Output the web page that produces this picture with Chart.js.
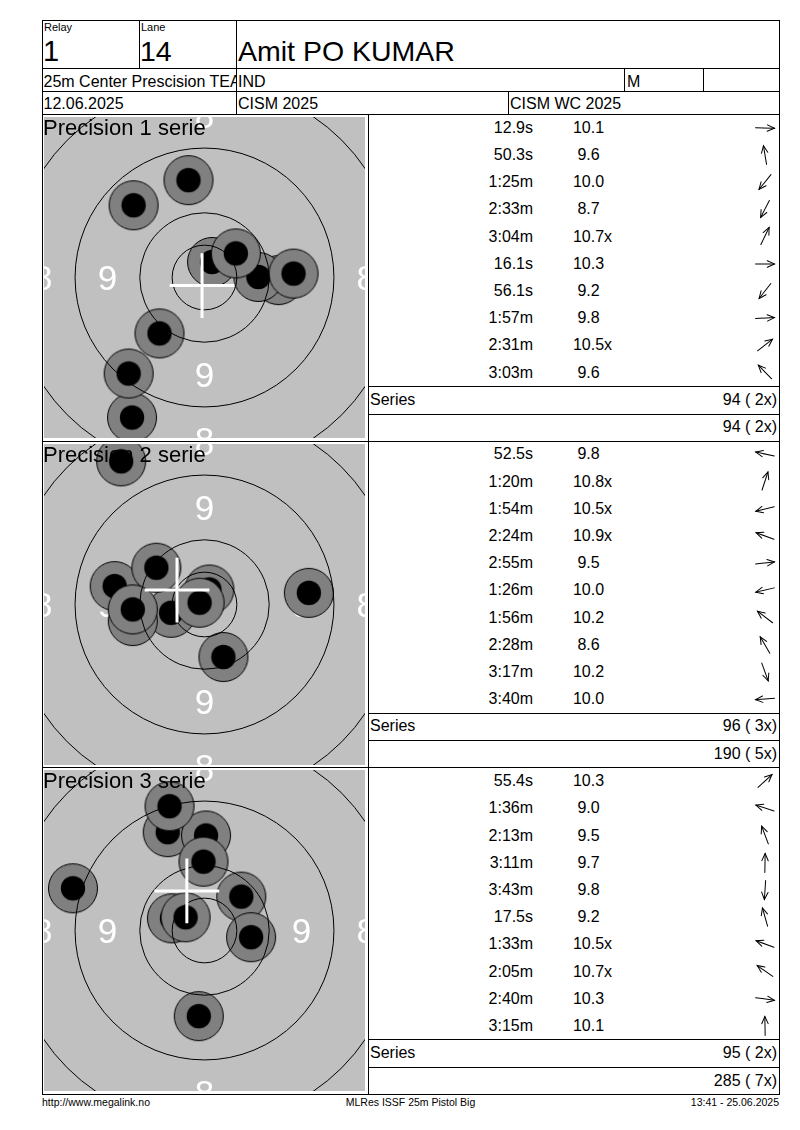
<!DOCTYPE html>
<html><head><meta charset="utf-8">
<script src="https://cdn.jsdelivr.net/npm/chart.js@4.4.0/dist/chart.umd.min.js"></script>
<style>
html,body{margin:0;padding:0;background:#fff;}
body{width:800px;height:1130px;position:relative;overflow:hidden;font-family:"Liberation Sans",Arial,Helvetica,sans-serif;color:#000;}
.l{position:absolute;background:#000;}
.t{position:absolute;white-space:nowrap;line-height:1;}
canvas.tg{position:absolute;}
</style></head><body>
<script>
// ---------- data ----------
const relayNo = "1";
const laneNo = "14";
const shooterName = "Amit PO KUMAR";
const eventName = "25m Center Prescision TEAM";
const nation = "IND";
const gender = "M";
const matchDate = "12.06.2025";
const competition = "CISM 2025";
const competitionSub = "CISM WC 2025";
const footerLeft = "http://www.megalink.no";
const footerMid = "MLRes ISSF 25m Pistol Big";
const footerRight = "13:41 - 25.06.2025";

const seriesTitles = ["Precision 1 serie", "Precision 2 serie", "Precision 3 serie"];

const s1Times = ["12.9s","50.3s","1:25m","2:33m","3:04m","16.1s","56.1s","1:57m","2:31m","3:03m"];
const s1Scores = ["10.1","9.6","10.0","8.7","10.7x","10.3","9.2","9.8","10.5x","9.6"];
const s1X = [28.6,-6.2,-17.4,-28.0,2.9,20.8,-29.3,34.4,12.1,-27.4];
const s1Y = [-1.0,37.6,-21.6,-54.1,6.0,0.2,-37.1,1.5,9.3,27.9];

const s2Times = ["52.5s","1:20m","1:54m","2:24m","2:55m","1:26m","1:56m","2:28m","3:17m","3:40m"];
const s2Scores = ["9.8","10.8x","10.5x","10.9x","9.5","10.0","10.2","8.6","10.2","10.0"];
const s2X = [-34.7,1.9,-12.9,-1.9,40.3,-27.7,-18.6,-32.2,7.3,-27.7];
const s2Y = [7.1,5.8,-3.2,0.7,4.5,-6.4,14.2,55.3,-20.3,-1.9];

const s3Times = ["55.4s","1:36m","2:13m","3:11m","3:43m","17.5s","1:33m","2:05m","2:40m","3:15m"];
const s3Scores = ["10.3","9.0","9.5","9.7","9.8","9.2","10.5x","10.7x","10.3","10.1"];
const s3X = [14.2,-50.8,-14.2,0.6,-2.2,-13.5,-12.6,-7.3,18.0,-0.4];
const s3Y = [13.1,16.3,38.0,36.7,-33.1,48.0,4.7,5.1,-2.6,26.6];

const seriesTotal = [94, 96, 95];
const seriesInner = [2, 3, 2];
const runningTotal = [94, 190, 285];
const runningInner = [2, 5, 7];

const ringRadii = [12.5, 25, 50, 75];      // mm: X, 10, 9, 8
const ringNumbers = ["9", "8"];
const ringNumberRadii = [37.5, 62.5];
const targetHalf = 62;                        // visible half-width, mm

// ---------- layout helpers ----------
const B = document.body;
function box(x, y, w, h) {
  const d = document.createElement('div'); d.className = 'l';
  d.style.cssText = `left:${x}px;top:${y}px;width:${w}px;height:${h}px`;
  B.appendChild(d);
}
function hl(x1, x2, y) { box(x1, Math.round(y), x2 - x1 + 1, 1); }
function vl(x, y1, y2) { box(x, Math.round(y1), 1, Math.round(y2) - Math.round(y1) + 1); }
function txt(x, base, str, size, align, extra) {
  const d = document.createElement('div'); d.className = 't';
  d.style.fontSize = size + 'px';
  d.style.top = (base - 0.8465 * size) + 'px';
  d.style.left = x + 'px';
  if (align === 'right') d.style.transform = 'translateX(-100%)';
  if (align === 'center') d.style.transform = 'translateX(-50%)';
  if (extra) d.style.cssText += extra;
  d.textContent = str;
  B.appendChild(d);
  return d;
}

const L = 42, R = 779, TOP = 20;
const secTop = [114, 114 + 326.67, 114 + 2 * 326.67];
const BOT = 114 + 3 * 326.67;

// frame
hl(L, R, TOP); hl(L, R, 68); hl(L, R, 91); hl(L, R, 114);
vl(L, TOP, BOT); vl(R, TOP, BOT);
vl(139, TOP, 68); vl(236, TOP, 68);
vl(236, 68, 91); vl(624, 68, 91); vl(703, 68, 91);
vl(236, 91, 114); vl(508, 91, 114);
vl(368, 114, BOT);
secTop.forEach(T => { hl(L, R, T + 326.67); hl(368, R, T + 272); hl(368, R, T + 299.5); });

// header text
txt(44, 31.3, "Relay", 11, 'left');
txt(141, 31.3, "Lane", 11, 'left');
txt(43, 61.3, relayNo, 29, 'left');
txt(140, 61.3, laneNo, 28.5, 'left');
txt(238, 61.3, shooterName, 28.5, 'left');
// clipped event cell
const clip = document.createElement('div');
clip.style.cssText = 'position:absolute;left:43px;top:69px;width:193px;height:22px;overflow:hidden';
B.appendChild(clip);
const ev = document.createElement('div'); ev.className = 't';
ev.style.cssText = `font-size:16px;left:0.5px;top:${88 - 69 - 0.8465 * 16}px`;
ev.textContent = eventName; clip.appendChild(ev);
txt(238, 88, nation, 16, 'left');
txt(627, 88, gender, 16, 'left');
txt(43.5, 110, matchDate, 16, 'left');
txt(238, 110, competition, 16, 'left');
txt(510, 110, competitionSub, 16, 'left');

// footer
txt(42, 1106, footerLeft, 10.5, 'left');
txt(410.5, 1106, footerMid, 10.5, 'center');
txt(779, 1106, footerRight, 10.5, 'right');

// ---------- tables ----------
const allTimes = [s1Times, s2Times, s3Times];
const allScores = [s1Scores, s2Scores, s3Scores];
const allX = [s1X, s2X, s3X];
const allY = [s1Y, s2Y, s3Y];
const ROWH = 27.2, FS = 16;

function arrow(xc, yc, x, y) {
  const ang = -Math.atan2(y, x) * 180 / Math.PI;
  const d = document.createElement('div');
  d.style.cssText = `position:absolute;left:${xc - 12}px;top:${yc - 12}px;width:24px;height:24px`;
  d.innerHTML = `<svg width="24" height="24" style="overflow:visible"><g transform="translate(12 12) rotate(${ang.toFixed(1)})" stroke="#000" stroke-width="1" fill="none" stroke-linecap="round"><line x1="-9.5" y1="0" x2="9.5" y2="0"/><polyline points="2.3,-3.2 9.5,0 2.3,3.2"/></g></svg>`;
  B.appendChild(d);
}

secTop.forEach((T, s) => {
  for (let i = 0; i < 10; i++) {
    const c = T + 13.6 + i * ROWH;
    const base = c + 0.358 * FS;
    txt(533, base, allTimes[s][i], FS, 'right');
    const sc = allScores[s][i];
    const num = sc.replace('x', '');
    const d = txt(548.5, base, num, FS, 'left', 'width:80px;text-align:center;');
    if (sc.indexOf('x') >= 0) {
      const sp = document.createElement('span'); sp.style.position = 'absolute'; sp.textContent = 'x';
      d.appendChild(sp);
    }
    arrow(764.5, c, allX[s][i], allY[s][i]);
  }
  const c1 = T + 272 + 13.6, c2 = T + 299.5 + 13.6;
  txt(370, c1 + 0.358 * FS, "Series", FS, 'left');
  txt(777, c1 + 0.358 * FS, `${seriesTotal[s]} ( ${seriesInner[s]}x)`, FS, 'right');
  txt(777, c2 + 0.358 * FS, `${runningTotal[s]} ( ${runningInner[s]}x)`, FS, 'right');
});

// ---------- targets (Chart.js) ----------
function makeShot() {
  const c = document.createElement('canvas'); c.width = 52; c.height = 52;
  const g = c.getContext('2d');
  g.beginPath(); g.arc(26, 26, 24.5, 0, 2 * Math.PI);
  g.fillStyle = '#808080'; g.fill();
  g.lineWidth = 1; g.strokeStyle = '#000'; g.stroke();
  g.beginPath(); g.arc(26, 26, 12.2, 0, 2 * Math.PI);
  g.fillStyle = '#000'; g.fill();
  return c;
}
const shotImg = makeShot();

const targetPlugin = {
  id: 'target',
  beforeDraw(chart) {
    const { ctx, chartArea: a } = chart;
    ctx.save(); ctx.fillStyle = '#c0c0c0';
    ctx.fillRect(a.left, a.top, a.right - a.left, a.bottom - a.top); ctx.restore();
  },
  beforeDatasetsDraw(chart) {
    const { ctx, chartArea: a } = chart;
    const xs = chart.scales.x, ys = chart.scales.y;
    ctx.save();
    ctx.beginPath(); ctx.rect(a.left, a.top, a.right - a.left, a.bottom - a.top); ctx.clip();
    ctx.fillStyle = '#ffffff';
    ctx.font = '35px "Liberation Sans", Arial, sans-serif';
    ctx.textAlign = 'center'; ctx.textBaseline = 'alphabetic';
    ringNumbers.forEach((lab, k) => {
      const r = ringNumberRadii[k];
      [[r, 0], [-r, 0], [0, r], [0, -r]].forEach(([vx, vy]) => {
        ctx.fillText(lab, xs.getPixelForValue(vx), ys.getPixelForValue(vy) + 0.358 * 35);
      });
    });
    ctx.restore();
  },
  afterDatasetsDraw(chart, args, opts) {
    const { ctx, chartArea: a } = chart;
    const xs = chart.scales.x, ys = chart.scales.y;
    const cx = xs.getPixelForValue(0), cy = ys.getPixelForValue(0);
    ctx.save();
    ctx.beginPath(); ctx.rect(a.left, a.top, a.right - a.left, a.bottom - a.top); ctx.clip();
    ctx.strokeStyle = '#000'; ctx.lineWidth = 1;
    ringRadii.forEach(R => {
      const r = Math.abs(xs.getPixelForValue(R) - cx);
      ctx.beginPath(); ctx.arc(cx, cy, r, 0, 2 * Math.PI); ctx.stroke();
    });
    // mean point of impact
    const pts = chart.data.datasets[0].data;
    const mx = pts.reduce((s, p) => s + p.x, 0) / pts.length;
    const my = pts.reduce((s, p) => s + p.y, 0) / pts.length;
    const h = 12.5;
    ctx.strokeStyle = '#fff'; ctx.lineWidth = 3;
    ctx.beginPath();
    ctx.moveTo(xs.getPixelForValue(mx - h), ys.getPixelForValue(my));
    ctx.lineTo(xs.getPixelForValue(mx + h), ys.getPixelForValue(my));
    ctx.moveTo(xs.getPixelForValue(mx), ys.getPixelForValue(my - h));
    ctx.lineTo(xs.getPixelForValue(mx), ys.getPixelForValue(my + h));
    ctx.stroke();
    ctx.restore();
    // title
    ctx.save();
    ctx.fillStyle = '#000';
    ctx.font = '22px "Liberation Sans", Arial, sans-serif';
    ctx.textAlign = 'left'; ctx.textBaseline = 'alphabetic';
    ctx.fillText(opts.title, a.left - 1, a.top + 17.5);
    ctx.restore();
  }
};

secTop.forEach((T, s) => {
  const cv = document.createElement('canvas');
  cv.className = 'tg'; cv.width = 321; cv.height = 321;
  cv.style.cssText = `left:44px;top:${Math.round(T) + 3}px;width:321px;height:321px`;
  B.appendChild(cv);
  new Chart(cv.getContext('2d'), {
    type: 'scatter',
    data: {
      datasets: [{
        data: allX[s].map((x, i) => ({ x: x, y: allY[s][i] })),
        pointStyle: shotImg,
        pointRadius: 25,
        pointHoverRadius: 25
      }]
    },
    options: {
      responsive: false,
      animation: false,
      events: [],
      devicePixelRatio: 1,
      layout: { padding: 0, autoPadding: false },
      scales: {
        x: { type: 'linear', min: -targetHalf, max: targetHalf, display: false },
        y: { type: 'linear', min: -targetHalf, max: targetHalf, display: false }
      },
      plugins: {
        legend: { display: false },
        tooltip: { enabled: false },
        target: { title: seriesTitles[s] }
      }
    },
    plugins: [targetPlugin]
  });
});
</script>
</body></html>
